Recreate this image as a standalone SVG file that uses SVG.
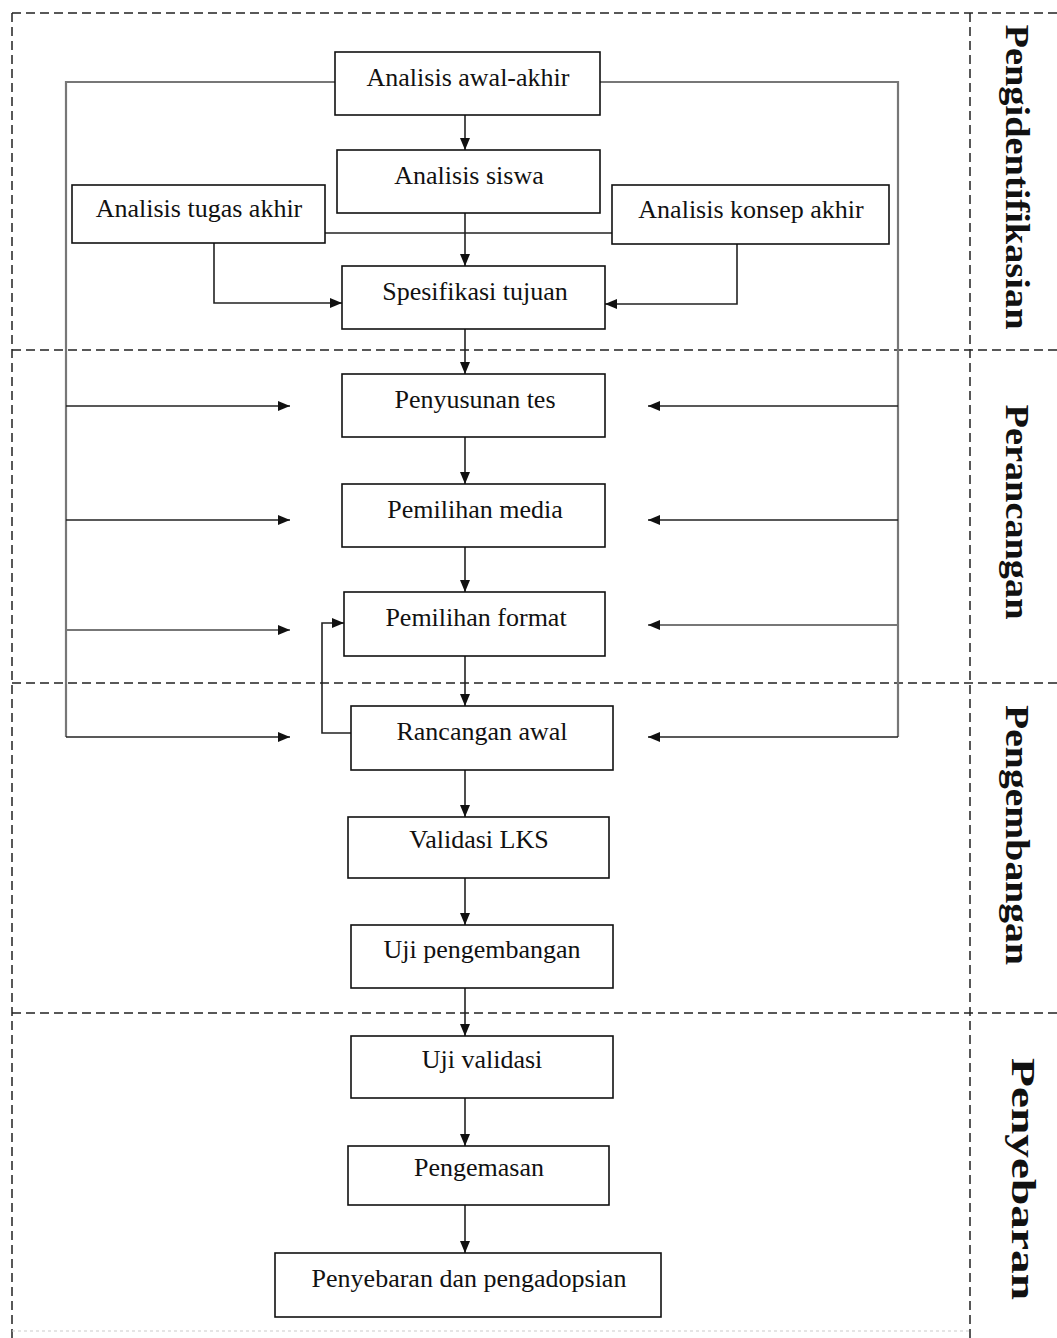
<svg xmlns="http://www.w3.org/2000/svg" width="1057" height="1338" viewBox="0 0 1057 1338">
<defs>
<style>
.box{fill:#fff;stroke:#111;stroke-width:1.6}
.t{font-family:"Liberation Serif","Times New Roman",serif;font-size:26px;fill:#111;text-anchor:middle}
.lab{font-family:"Liberation Serif","Times New Roman",serif;font-size:34px;font-weight:bold;fill:#111;text-anchor:middle}
.c{fill:none;stroke:#222;stroke-width:1.6}
.g{fill:none;stroke:#777;stroke-width:2.2}
.d{fill:none;stroke:#222;stroke-width:1.5;stroke-dasharray:9 5}
</style>
<marker id="ah" viewBox="0 0 12 10" refX="12" refY="5" markerWidth="12" markerHeight="10" markerUnits="userSpaceOnUse" orient="auto">
<path d="M0,0 L12,5 L0,10 z" fill="#111"/>
</marker>
</defs>
<rect width="1057" height="1338" fill="#fff"/>
<g id="frame">
<line class="d" x1="12" y1="13" x2="1057" y2="13"/>
<line class="d" x1="12" y1="13" x2="12" y2="1338"/>
<line class="d" x1="970" y1="13" x2="970" y2="1338"/>
<line class="d" x1="12" y1="350" x2="1057" y2="350"/>
<line class="d" x1="12" y1="683" x2="1057" y2="683"/>
<line class="d" x1="12" y1="1013" x2="1057" y2="1013"/>
<line x1="12" y1="1331" x2="970" y2="1331" stroke="#ccc" stroke-width="1.2" stroke-dasharray="3 3"/>
</g>
<g id="labels">
<text class="lab" transform="translate(1006,177) rotate(90)" textLength="305" lengthAdjust="spacingAndGlyphs">Pengidentifikasian</text>
<text class="lab" transform="translate(1006,512) rotate(90)" textLength="215" lengthAdjust="spacingAndGlyphs">Perancangan</text>
<text class="lab" transform="translate(1006,835) rotate(90)" textLength="260" lengthAdjust="spacingAndGlyphs">Pengembangan</text>
<text class="lab" transform="translate(1012,1179) rotate(90)" textLength="242" lengthAdjust="spacingAndGlyphs">Penyebaran</text>
</g>
<g id="connectors">
<polyline class="g" points="335,82 66,82 66,737"/>
<polyline class="g" points="600,82 898,82 898,737"/>
<line class="c" x1="66" y1="406" x2="290" y2="406" marker-end="url(#ah)"/>
<line class="c" x1="66" y1="520" x2="290" y2="520" marker-end="url(#ah)"/>
<line class="g" x1="66" y1="630" x2="290" y2="630" marker-end="url(#ah)"/>
<line class="c" x1="66" y1="737" x2="290" y2="737" marker-end="url(#ah)"/>
<line class="c" x1="898" y1="406" x2="648" y2="406" marker-end="url(#ah)"/>
<line class="c" x1="898" y1="520" x2="648" y2="520" marker-end="url(#ah)"/>
<line class="g" x1="898" y1="625" x2="648" y2="625" marker-end="url(#ah)"/>
<line class="c" x1="898" y1="737" x2="648" y2="737" marker-end="url(#ah)"/>
<line class="c" x1="325" y1="233" x2="612" y2="233"/>
<line class="c" x1="465" y1="115" x2="465" y2="150" marker-end="url(#ah)"/>
<line class="c" x1="465" y1="213" x2="465" y2="266" marker-end="url(#ah)"/>
<polyline class="c" points="214,243 214,303 342,303" marker-end="url(#ah)"/>
<polyline class="c" points="737,244 737,304 605,304" marker-end="url(#ah)"/>
<line class="c" x1="465" y1="329" x2="465" y2="374" marker-end="url(#ah)"/>
<line class="c" x1="465" y1="437" x2="465" y2="484" marker-end="url(#ah)"/>
<line class="c" x1="465" y1="547" x2="465" y2="592" marker-end="url(#ah)"/>
<line class="c" x1="465" y1="656" x2="465" y2="706" marker-end="url(#ah)"/>
<polyline class="c" points="351,733 322,733 322,623 344,623" marker-end="url(#ah)"/>
<line class="c" x1="465" y1="770" x2="465" y2="817" marker-end="url(#ah)"/>
<line class="c" x1="465" y1="878" x2="465" y2="925" marker-end="url(#ah)"/>
<line class="c" x1="465" y1="988" x2="465" y2="1036" marker-end="url(#ah)"/>
<line class="c" x1="465" y1="1098" x2="465" y2="1146" marker-end="url(#ah)"/>
<line class="c" x1="465" y1="1205" x2="465" y2="1253" marker-end="url(#ah)"/>
</g>
<g id="n1"><rect class="box" x="335" y="52" width="265" height="63"/><text class="t" x="468" y="86">Analisis awal-akhir</text></g>
<g id="n2"><rect class="box" x="337" y="150" width="263" height="63"/><text class="t" x="469" y="184">Analisis siswa</text></g>
<g id="n3"><rect class="box" x="72" y="185" width="253" height="58"/><text class="t" x="199" y="217">Analisis tugas akhir</text></g>
<g id="n4"><rect class="box" x="612" y="185" width="277" height="59"/><text class="t" x="751" y="218">Analisis konsep akhir</text></g>
<g id="n5"><rect class="box" x="342" y="266" width="263" height="63"/><text class="t" x="475" y="300">Spesifikasi tujuan</text></g>
<g id="n6"><rect class="box" x="342" y="374" width="263" height="63"/><text class="t" x="475" y="408">Penyusunan tes</text></g>
<g id="n7"><rect class="box" x="342" y="484" width="263" height="63"/><text class="t" x="475" y="518">Pemilihan media</text></g>
<g id="n8"><rect class="box" x="344" y="592" width="261" height="64"/><text class="t" x="476" y="626">Pemilihan format</text></g>
<g id="n9"><rect class="box" x="351" y="706" width="262" height="64"/><text class="t" x="482" y="740">Rancangan awal</text></g>
<g id="n10"><rect class="box" x="348" y="817" width="261" height="61"/><text class="t" x="479" y="848">Validasi LKS</text></g>
<g id="n11"><rect class="box" x="351" y="925" width="262" height="63"/><text class="t" x="482" y="958">Uji pengembangan</text></g>
<g id="n12"><rect class="box" x="351" y="1036" width="262" height="62"/><text class="t" x="482" y="1068">Uji validasi</text></g>
<g id="n13"><rect class="box" x="348" y="1146" width="261" height="59"/><text class="t" x="479" y="1176">Pengemasan</text></g>
<g id="n14"><rect class="box" x="275" y="1253" width="386" height="64"/><text class="t" x="469" y="1287">Penyebaran dan pengadopsian</text></g>
</svg>
